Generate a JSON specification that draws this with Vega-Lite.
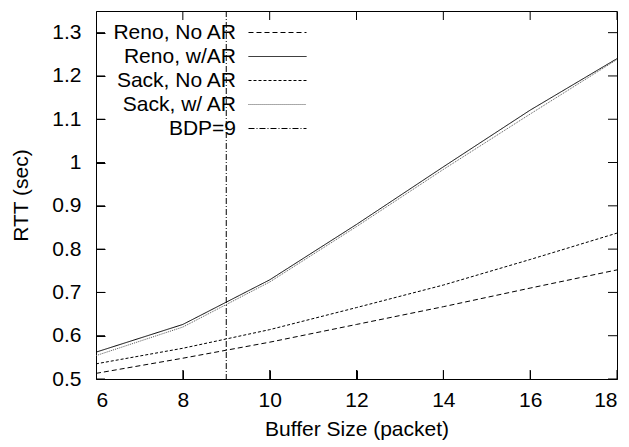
{
  "$schema": "https://vega.github.io/schema/vega-lite/v6.json",
  "width": 521,
  "height": 368,
  "autosize": {"type": "none"},
  "padding": {"left": 96, "top": 11, "right": 12, "bottom": 68},
  "background": "white",
  "config": {
    "view": {"stroke": "black", "strokeWidth": 1},
    "font": "Liberation Sans",
    "axis": {
      "labelColor": "black",
      "titleColor": "black",
      "grid": false,
      "labelFont": "Liberation Sans",
      "titleFont": "Liberation Sans",
      "labelFontSize": 21,
      "titleFontSize": 21,
      "titleFontWeight": "normal"
    }
  },
  "datasets": {
    "reno": [
      {"series": "Reno, No AR", "buffer": 6, "rtt": 0.513},
      {"series": "Reno, No AR", "buffer": 8, "rtt": 0.548},
      {"series": "Reno, No AR", "buffer": 10, "rtt": 0.585},
      {"series": "Reno, No AR", "buffer": 12, "rtt": 0.626},
      {"series": "Reno, No AR", "buffer": 14, "rtt": 0.667},
      {"series": "Reno, No AR", "buffer": 16, "rtt": 0.71},
      {"series": "Reno, No AR", "buffer": 18, "rtt": 0.752},
      {"series": "Reno, w/AR", "buffer": 6, "rtt": 0.562},
      {"series": "Reno, w/AR", "buffer": 8, "rtt": 0.626},
      {"series": "Reno, w/AR", "buffer": 10, "rtt": 0.729},
      {"series": "Reno, w/AR", "buffer": 12, "rtt": 0.857},
      {"series": "Reno, w/AR", "buffer": 14, "rtt": 0.99},
      {"series": "Reno, w/AR", "buffer": 16, "rtt": 1.121},
      {"series": "Reno, w/AR", "buffer": 18, "rtt": 1.24}
    ],
    "sack": [
      {"series": "Sack, No AR", "buffer": 6, "rtt": 0.535},
      {"series": "Sack, No AR", "buffer": 8, "rtt": 0.571},
      {"series": "Sack, No AR", "buffer": 10, "rtt": 0.614},
      {"series": "Sack, No AR", "buffer": 12, "rtt": 0.665},
      {"series": "Sack, No AR", "buffer": 14, "rtt": 0.717},
      {"series": "Sack, No AR", "buffer": 16, "rtt": 0.776},
      {"series": "Sack, No AR", "buffer": 18, "rtt": 0.837},
      {"series": "Sack, w/ AR", "buffer": 6, "rtt": 0.554},
      {"series": "Sack, w/ AR", "buffer": 8, "rtt": 0.62},
      {"series": "Sack, w/ AR", "buffer": 10, "rtt": 0.724},
      {"series": "Sack, w/ AR", "buffer": 12, "rtt": 0.852},
      {"series": "Sack, w/ AR", "buffer": 14, "rtt": 0.984},
      {"series": "Sack, w/ AR", "buffer": 16, "rtt": 1.112},
      {"series": "Sack, w/ AR", "buffer": 18, "rtt": 1.238}
    ],
    "bdp": [
      {"series": "BDP=9", "buffer": 9}
    ],
    "xticks": [
      {"buffer": 6}, {"buffer": 8}, {"buffer": 10}, {"buffer": 12},
      {"buffer": 14}, {"buffer": 16}, {"buffer": 18}
    ],
    "yticks": [
      {"rtt": 0.5}, {"rtt": 0.6}, {"rtt": 0.7}, {"rtt": 0.8}, {"rtt": 0.9},
      {"rtt": 1.0}, {"rtt": 1.1}, {"rtt": 1.2}, {"rtt": 1.3}
    ]
  },
  "layer": [
    {
      "data": {"name": "reno"},
      "mark": {"type": "line", "strokeWidth": 1},
      "encoding": {
        "x": {
          "field": "buffer", "type": "quantitative",
          "scale": {"domain": [6, 18], "nice": false, "zero": false},
          "axis": {
            "orient": "bottom",
            "title": "Buffer Size (packet)",
            "values": [6, 8, 10, 12, 14, 16, 18],
            "domain": false,
            "ticks": true,
            "tickColor": "black",
            "tickWidth": 1,
            "tickSize": 9,
            "offset": -9,
            "zindex": 1,
            "labelPadding": 10,
            "titlePadding": 8
          }
        },
        "y": {
          "field": "rtt", "type": "quantitative",
          "scale": {"domain": [0.5, 1.35], "nice": false, "zero": false},
          "axis": {
            "orient": "left",
            "title": "RTT (sec)",
            "values": [0.5, 0.6, 0.7, 0.8, 0.9, 1, 1.1, 1.2, 1.3],
            "format": "~g",
            "domain": false,
            "ticks": true,
            "tickColor": "black",
            "tickWidth": 1,
            "tickSize": 9,
            "offset": -9,
            "zindex": 1,
            "labelPadding": 15,
            "titlePadding": 20
          }
        },
        "color": {
          "field": "series", "type": "nominal",
          "scale": {
            "domain": ["Reno, No AR", "Reno, w/AR", "Sack, No AR", "Sack, w/ AR", "BDP=9"],
            "range": ["#000000", "#000000", "#000000", "#555555", "#000000"]
          },
          "legend": {
            "orient": "none",
            "legendX": 171,
            "legendY": 11,
            "title": null,
            "padding": 0,
            "symbolType": "M-3,0H3",
            "symbolSize": 374,
            "symbolStrokeWidth": 1,
            "labelAlign": "right",
            "labelOffset": -52,
            "labelFontSize": 21,
            "labelFont": "Liberation Sans",
            "labelColor": "black",
            "labelLimit": 300,
            "rowPadding": 2
          }
        },
        "strokeDash": {
          "field": "series", "type": "nominal",
          "scale": {
            "domain": ["Reno, No AR", "Reno, w/AR", "Sack, No AR", "Sack, w/ AR", "BDP=9"],
            "range": [[5, 3], [1, 0], [3, 2], [1, 1], [6, 2, 1, 2]]
          }
        }
      }
    },
    {
      "data": {"name": "sack"},
      "mark": {"type": "line", "strokeWidth": 1},
      "encoding": {
        "x": {"field": "buffer", "type": "quantitative"},
        "y": {"field": "rtt", "type": "quantitative"},
        "color": {"field": "series", "type": "nominal"},
        "strokeDash": {"field": "series", "type": "nominal"}
      }
    },
    {
      "data": {"name": "bdp"},
      "mark": {"type": "rule", "strokeWidth": 1},
      "encoding": {
        "x": {"field": "buffer", "type": "quantitative"},
        "color": {"field": "series", "type": "nominal"},
        "strokeDash": {"field": "series", "type": "nominal"}
      }
    },
    {
      "description": "inward ticks along the bottom edge of the frame",
      "data": {"name": "xticks"},
      "mark": {"type": "tick", "orient": "vertical", "clip": true, "color": "black", "thickness": 1, "size": 18, "opacity": 1},
      "encoding": {
        "x": {"field": "buffer", "type": "quantitative"},
        "y": {"datum": 0.5, "type": "quantitative"}
      }
    },
    {
      "description": "inward ticks along the top edge of the frame",
      "data": {"name": "xticks"},
      "mark": {"type": "tick", "orient": "vertical", "clip": true, "color": "black", "thickness": 1, "size": 18, "opacity": 1},
      "encoding": {
        "x": {"field": "buffer", "type": "quantitative"},
        "y": {"datum": 1.35, "type": "quantitative"}
      }
    },
    {
      "description": "inward ticks along the left edge of the frame",
      "data": {"name": "yticks"},
      "mark": {"type": "tick", "orient": "horizontal", "clip": true, "color": "black", "thickness": 1, "size": 18, "opacity": 1},
      "encoding": {
        "y": {"field": "rtt", "type": "quantitative"},
        "x": {"datum": 6, "type": "quantitative"}
      }
    },
    {
      "description": "inward ticks along the right edge of the frame",
      "data": {"name": "yticks"},
      "mark": {"type": "tick", "orient": "horizontal", "clip": true, "color": "black", "thickness": 1, "size": 18, "opacity": 1},
      "encoding": {
        "y": {"field": "rtt", "type": "quantitative"},
        "x": {"datum": 18, "type": "quantitative"}
      }
    }
  ]
}
